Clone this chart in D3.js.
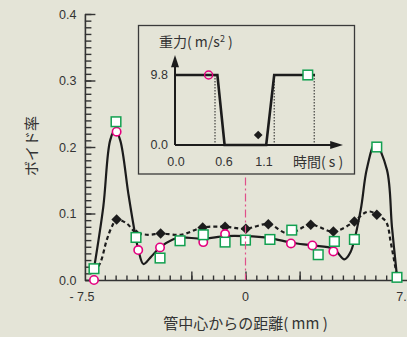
<!DOCTYPE html>
<html>
<head>
<meta charset="utf-8">
<style>
    html, body { margin: 0; padding: 0; background: #e4e4d7; }
    svg { display: block; }
    .num { font-family: "Liberation Sans", Arial, sans-serif; font-size: 12.5px; fill: #333; }
    .jp { font-family: "Noto Sans CJK JP", sans-serif; fill: #333; }
</style>
<script src="https://cdn.jsdelivr.net/npm/d3@7"></script>
</head>
<body>
<svg id="chart" width="407" height="337"></svg>
<script>
    // ---- data (x in mm, y = void fraction) ----
    const circleX  = [-7.5, -6.38, -5.31, -4.23, -2.09, -1.01, 2.25, 3.31, 4.35];
    const circleY  = [0.0, 0.223, 0.045, 0.049, 0.057, 0.069, 0.055, 0.052, 0.043];

    const squareX  = [-7.5, -6.41, -5.42, -4.23, -3.24, -2.09, -1.01, 0.0, 1.21, 2.29, 3.6, 4.4, 5.39, 6.5, 7.5];
    const squareY  = [0.017, 0.238, 0.064, 0.033, 0.059, 0.068, 0.057, 0.060, 0.061, 0.075, 0.038, 0.058, 0.061, 0.200, 0.004];

    const diamondX = [-6.38, -5.4, -4.2, -2.12, -1.01, 0.02, 1.13, 3.23, 4.35, 5.39, 6.5];
    const diamondY = [0.091, 0.068, 0.070, 0.079, 0.080, 0.077, 0.084, 0.083, 0.073, 0.088, 0.098];

    // solid curve
    const solidX = [-7.5, -7.04, -6.7, -6.45, -6.2, -5.8, -5.5, -5.3, -5.05, -4.7, -4.23, -3.6, -3.2, -2.1, -1.0, 0.0, 1.2, 2.3, 3.3, 4.35, 4.9, 5.2, 5.7, 6.0, 6.42, 7.0, 7.25, 7.5];
    const solidY = [0.017, 0.11, 0.21, 0.226, 0.21, 0.13, 0.075, 0.045, 0.024, 0.034, 0.049, 0.061, 0.064, 0.062, 0.066, 0.066, 0.063, 0.056, 0.052, 0.047, 0.031, 0.042, 0.105, 0.166, 0.205, 0.166, 0.08, 0.005];

    // dashed curve
    const dashX = [-7.5, -7.2, -6.87, -6.62, -6.38, -5.88, -5.45, -4.8, -4.2, -3.2, -2.1, -1.0, 0.0, 1.13, 2.1, 3.23, 4.35, 5.39, 5.85, 6.16, 6.5, 6.95, 7.2, 7.5];
    const dashY = [0.012, 0.025, 0.06, 0.08, 0.091, 0.085, 0.072, 0.068, 0.070, 0.068, 0.079, 0.080, 0.077, 0.084, 0.070, 0.083, 0.073, 0.088, 0.100, 0.103, 0.098, 0.088, 0.055, 0.005];

    const yMajorTicks = [0, 0.1, 0.2, 0.3, 0.4];
    const xTickValues = [-7.5, 0, 7.5];
    const xTickLabels = ["- 7.5", "0", "7.5"];
    const xTallTicks  = [-2.68, 0, 2.68];
    const centreLineTop = 0.154;

    // ---- inset: gravity vs time ----
    const gTime   = [0, 0.53, 0.62, 1.14, 1.24, 1.75];
    const gValue  = [9.8, 9.8, 0, 0, 9.8, 9.8];
    const gDotted = [0.5, 1.24, 1.74];
    const gTickT  = [0.0, 0.6, 1.1];
    const gTickG  = [9.8, 0.0];
    const gMarks  = [
        { t: 0.42, g: 9.8, kind: "circle" },
        { t: 1.04, g: 1.4, kind: "diamond" },
        { t: 1.66, g: 9.8, kind: "square" }
    ];

    const pink = "#e4007f", green = "#12a050", ink = "#1c1c1c", axisInk = "#333";

    const svg = d3.select("#chart");

    const x = d3.scaleLinear().domain([-7.95, 8.0]).range([84.9, 407.1]);
    const y = d3.scaleLinear().domain([0, 0.4]).range([280, 14]);

    const zip = (xs, ys) => xs.map((v, i) => [v, ys[i]]);

    // ---- axes ----
    const yMinor = svg.append("g").attr("transform", `translate(${x(-7.95)},0)`)
        .call(d3.axisLeft(y).tickValues(d3.range(0, 0.4001, 0.01)).tickSizeInner(-6.5).tickSizeOuter(0).tickFormat(""));
    yMinor.select(".domain").remove();

    const yMajor = svg.append("g").attr("transform", `translate(${x(-7.95)},0)`)
        .call(d3.axisLeft(y).tickValues(yMajorTicks).tickSizeInner(-10.5).tickSizeOuter(0)
            .tickPadding(8.5).tickFormat(d3.format(".1f")));
    yMajor.selectAll("text").attr("class", "num").attr("font-size", null).attr("font-family", null);

    const xMinor = svg.append("g").attr("transform", `translate(0,${y(0)})`)
        .call(d3.axisBottom(x).tickValues(d3.range(-14, 15).map(k => k * 7.5 / 14))
            .tickSizeInner(-4.5).tickSizeOuter(0).tickFormat(""));

    const xTall = svg.append("g").attr("transform", `translate(0,${y(0)})`)
        .call(d3.axisBottom(x).tickValues(xTallTicks).tickSizeInner(-8.5).tickSizeOuter(0).tickFormat(""));
    xTall.select(".domain").remove();

    svg.selectAll(".domain, .tick line").attr("stroke", axisInk).attr("stroke-width", 1.4);
    svg.selectAll(".domain").attr("stroke-width", 1.6);

    svg.append("g").selectAll("text")
        .data(xTickValues)
        .join("text")
        .attr("class", "num")
        .attr("x", (d, i) => x(d) + [-12, 0, 8][i])
        .attr("y", 297)
        .attr("dy", "0.35em")
        .attr("text-anchor", "middle")
        .text((d, i) => xTickLabels[i]);

    svg.append("text").attr("class", "jp").attr("font-size", 15)
        .attr("x", x(0)).attr("y", 324).attr("dy", "0.35em").attr("text-anchor", "middle")
        .text("管中心からの距離( mm )");

    svg.append("text").attr("class", "jp").attr("font-size", 15)
        .attr("transform", "translate(32,146) rotate(-90)")
        .attr("dy", "0.35em").attr("text-anchor", "middle")
        .text("ボイド率");

    // ---- curves ----
    const line = d3.line().x(d => x(d[0])).y(d => y(d[1])).curve(d3.curveCatmullRom.alpha(0.5));

    svg.append("path").datum(zip(dashX, dashY))
        .attr("d", line).attr("fill", "none").attr("stroke", ink)
        .attr("stroke-width", 2.2).attr("stroke-dasharray", "4,3");

    svg.append("path").datum(zip(solidX, solidY))
        .attr("d", line).attr("fill", "none").attr("stroke", ink).attr("stroke-width", 2.2);

    // ---- markers ----
    svg.append("g").selectAll("path")
        .data(zip(diamondX, diamondY))
        .join("path")
        .attr("transform", d => `translate(${x(d[0])},${y(d[1])})`)
        .attr("d", d3.symbol(d3.symbolDiamond2, 70))
        .attr("fill", ink);

    svg.append("g").selectAll("circle")
        .data(zip(circleX, circleY))
        .join("circle")
        .attr("cx", d => x(d[0])).attr("cy", d => y(d[1])).attr("r", 4.2)
        .attr("fill", "#fff").attr("stroke", pink).attr("stroke-width", 1.6);

    svg.append("g").selectAll("rect")
        .data(zip(squareX, squareY))
        .join("rect")
        .attr("x", d => x(d[0]) - 4.8).attr("y", d => y(d[1]) - 4.8)
        .attr("width", 9.6).attr("height", 9.6)
        .attr("fill", "#fff").attr("stroke", green).attr("stroke-width", 1.5);

    // pipe centre line
    svg.append("line")
        .attr("x1", x(0)).attr("x2", x(0)).attr("y1", y(centreLineTop)).attr("y2", y(0))
        .attr("stroke", "#e0508a").attr("stroke-width", 1.2).attr("stroke-dasharray", "8,3,2,3");

    // ---- inset ----
    const inset = svg.append("g");
    inset.append("rect").attr("x", 138.5).attr("y", 25.5).attr("width", 216).attr("height", 148.5)
        .attr("fill", "#e4e4d7").attr("stroke", "#3a3a3a").attr("stroke-width", 1.3);

    const tx = d3.scaleLinear().domain([0, 2.1]).range([175, 343]);
    const gy = d3.scaleLinear().domain([0, 9.8]).range([145, 75]);

    inset.selectAll(".dot")
        .data(gDotted)
        .join("line")
        .attr("class", "dot")
        .attr("x1", d => tx(d)).attr("x2", d => tx(d)).attr("y1", gy(9.8)).attr("y2", gy(0))
        .attr("stroke", "#222").attr("stroke-width", 1).attr("stroke-dasharray", "1.5,1.5");

    // axes with arrow heads
    inset.append("line").attr("x1", tx(0)).attr("x2", tx(0)).attr("y1", gy(0)).attr("y2", gy(11.6))
        .attr("stroke", ink).attr("stroke-width", 2);
    inset.append("line").attr("x1", tx(0)).attr("x2", tx(1.96)).attr("y1", gy(0)).attr("y2", gy(0))
        .attr("stroke", ink).attr("stroke-width", 2);
    inset.append("path")
        .attr("d", `M${tx(0)},${gy(12.6)} L${tx(0) - 4},${gy(10.9)} L${tx(0) + 4},${gy(10.9)} Z`)
        .attr("fill", ink);
    inset.append("path")
        .attr("d", `M${tx(2.1)},${gy(0)} L${tx(1.94)},${gy(0) - 4} L${tx(1.94)},${gy(0) + 4} Z`)
        .attr("fill", ink);

    inset.append("path").datum(zip(gTime, gValue))
        .attr("d", d3.line().x(d => tx(d[0])).y(d => gy(d[1])))
        .attr("fill", "none").attr("stroke", ink).attr("stroke-width", 2.6);

    inset.selectAll(".tl")
        .data(gTickT)
        .join("text")
        .attr("class", "num tl")
        .attr("x", d => tx(d) + 1).attr("y", 162).attr("dy", "0.35em").attr("text-anchor", "middle")
        .text(d => d3.format(".1f")(d));

    inset.selectAll(".gl")
        .data(gTickG)
        .join("text")
        .attr("class", "num gl")
        .attr("x", 168).attr("y", d => gy(d)).attr("dy", "0.35em").attr("text-anchor", "end")
        .text(d => d3.format(".1f")(d));

    const gTitle = inset.append("text").attr("class", "jp").attr("font-size", 14)
        .attr("x", 159).attr("y", 42).attr("dy", "0.35em");
    gTitle.append("tspan").text("重力( m/s");
    gTitle.append("tspan").attr("font-size", 9).attr("dy", -5).text("2");
    gTitle.append("tspan").attr("dy", 5).text(" )");

    inset.append("text").attr("class", "jp").attr("font-size", 14)
        .attr("x", 293).attr("y", 162).attr("dy", "0.35em").text("時間( s )");

    gMarks.forEach(m => {
        const cx = tx(m.t), cy = gy(m.g);
        if (m.kind === "circle") {
            inset.append("circle").attr("cx", cx).attr("cy", cy).attr("r", 4)
                .attr("fill", "none").attr("stroke", pink).attr("stroke-width", 1.5);
        } else if (m.kind === "diamond") {
            inset.append("path").attr("transform", `translate(${cx},${cy})`)
                .attr("d", d3.symbol(d3.symbolDiamond2, 48)).attr("fill", ink);
        } else {
            inset.append("rect").attr("x", cx - 4.8).attr("y", cy - 4.8).attr("width", 9.6).attr("height", 9.6)
                .attr("fill", "#fff").attr("stroke", green).attr("stroke-width", 1.5);
        }
    });
</script>
</body>
</html>
